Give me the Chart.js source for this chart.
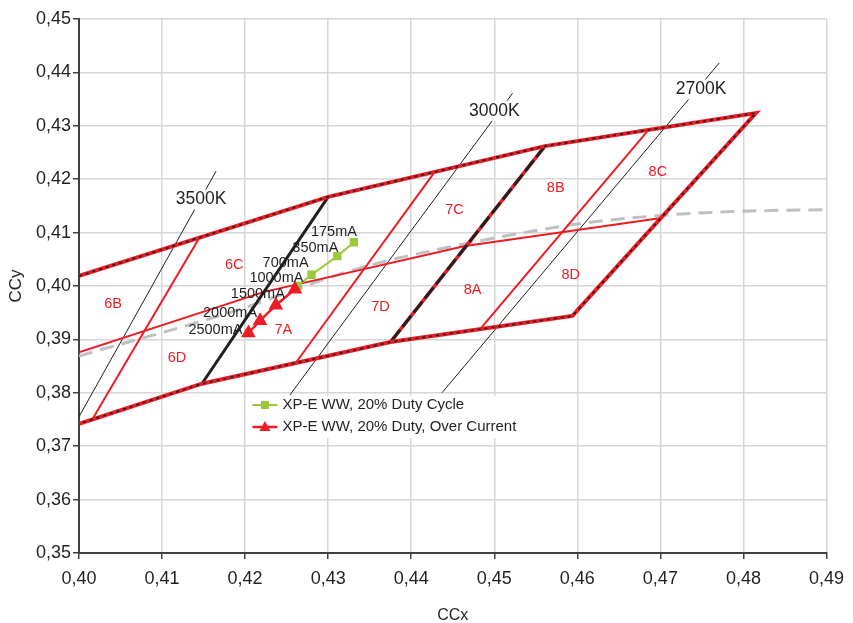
<!DOCTYPE html>
<html>
<head>
<meta charset="utf-8">
<script src="https://cdn.jsdelivr.net/npm/chart.js@4.4.1/dist/chart.umd.min.js"></script>
<style>
  html, body { margin: 0; padding: 0; background: #fff; }
  #wrap { width: 853px; height: 623px; }
</style>
</head>
<body>
<div id="wrap"><canvas id="chart"></canvas></div>
<script>
// Axis ticks
const xTicks = [0.40, 0.41, 0.42, 0.43, 0.44, 0.45, 0.46, 0.47, 0.48, 0.49];
const yTicks = [0.35, 0.36, 0.37, 0.38, 0.39, 0.40, 0.41, 0.42, 0.43, 0.44, 0.45];

// Outline of the 2700K-3500K bins (top edge, right edge, bottom edge)
const outlineX = [0.4000, 0.4300, 0.4561, 0.4815, 0.4594, 0.4375, 0.4148, 0.4000];
const outlineY = [0.4019, 0.4167, 0.4262, 0.4324, 0.3944, 0.3895, 0.3817, 0.3742];

// Borders between the CCT groups
const border67X = [0.4300, 0.4148];
const border67Y = [0.4167, 0.3817];
const border78X = [0.4561, 0.4375];
const border78Y = [0.4262, 0.3895];

// Red sub-bin dividers
const split6X = [0.4144, 0.4017];
const split6Y = [0.4088, 0.3753];
const split7X = [0.4429, 0.4260];
const split7Y = [0.4215, 0.3854];
const split8X = [0.4686, 0.4484];
const split8Y = [0.4293, 0.3921];
const centerX = [0.4000, 0.4223, 0.4465, 0.4699];
const centerY = [0.3876, 0.3989, 0.4075, 0.4127];

// Black body curve
const planckX = [0.4000, 0.4179, 0.4339, 0.4465, 0.4600, 0.4700, 0.4799, 0.4900];
const planckY = [0.3869, 0.3949, 0.4034, 0.4079, 0.4116, 0.4132, 0.4140, 0.4143];

// Isotherms
const iso3500X = [0.4000, 0.4165];
const iso3500Y = [0.3755, 0.4215];
const iso3000X = [0.4254, 0.4522];
const iso3000Y = [0.3796, 0.4361];
const iso2700X = [0.4437, 0.4771];
const iso2700Y = [0.3800, 0.4418];
const isoNames = ['3500K', '3000K', '2700K'];
const isoLabelX = [0.4147, 0.4500, 0.4749];
const isoLabelY = [0.4162, 0.4328, 0.4368];

// Bin names
const binNames = ['6B', '6C', '6D', '7A', '7C', '7D', '8A', '8B', '8C', '8D'];
const binX = [0.4041, 0.4187, 0.4118, 0.4246, 0.4452, 0.4363, 0.4474, 0.4574, 0.4697, 0.4592];
const binY = [0.3967, 0.4039, 0.3866, 0.3918, 0.4142, 0.3961, 0.3993, 0.4184, 0.4214, 0.4021];

// Measured series
const dutyCurrents = ['175mA', '350mA', '700mA', '1000mA'];
const dutyX = [0.4331, 0.4311, 0.4280, 0.4263];
const dutyY = [0.4082, 0.4056, 0.4021, 0.4000];
const overCurrents = ['', '1500mA', '2000mA', '2500mA'];
const overX = [0.4260, 0.4237, 0.4218, 0.4204];
const overY = [0.3994, 0.3964, 0.3935, 0.3912];

// label nudges in px (right edge, middle)
const dutyNudge = [[3, -10], [1, -8], [-3, -12], [6, -8]];
const overNudge = [[0, 0], [9, -11], [-3, -8], [-6, -3]];

const RED = '#ed1c24';
const BLACK = '#231f20';
const GREEN = '#9cc93a';
const FONT = '"Liberation Sans", Arial, sans-serif';

const pts = (xs, ys) => xs.map((x, i) => ({ x: x, y: ys[i] }));

function line(xs, ys, color, width, order, dash) {
    return {
        data: pts(xs, ys),
        showLine: true,
        borderColor: color,
        borderWidth: width,
        borderDash: dash || [],
        borderJoinStyle: 'miter',
        pointRadius: 0,
        fill: false,
        order: order
    };
}

const datasets = [
    {
        label: 'XP-E WW, 20% Duty Cycle',
        data: pts(dutyX, dutyY),
        showLine: true,
        borderColor: GREEN,
        backgroundColor: GREEN,
        borderWidth: 2,
        pointStyle: 'rect',
        pointRadius: 4.5,
        order: 0
    },
    {
        label: 'XP-E WW, 20% Duty, Over Current',
        data: pts(overX, overY),
        showLine: true,
        borderColor: RED,
        backgroundColor: RED,
        borderWidth: 2.5,
        pointStyle: 'triangle',
        pointRadius: 6,
        order: -1
    },
    line(outlineX, outlineY, BLACK, 1.8, 2, [3, 4]),
    line(outlineX, outlineY, RED, 4, 3),
    line(border78X, border78Y, BLACK, 3, 4, [14, 4]),
    line(border78X, border78Y, RED, 3.5, 5),
    line(border67X, border67Y, BLACK, 3, 4),
    line(split6X, split6Y, RED, 2, 6),
    line(split7X, split7Y, RED, 2, 6),
    line(split8X, split8Y, RED, 2, 6),
    line(centerX, centerY, RED, 2, 6),
    line(iso3500X, iso3500Y, BLACK, 1, 7),
    line(iso3000X, iso3000Y, BLACK, 1, 7),
    line(iso2700X, iso2700Y, BLACK, 1, 7),
    Object.assign(line(planckX, planckY, '#c0c0c0', 3, 8, [14, 8]), { cubicInterpolationMode: 'monotone' })
];

// Text on the plot and the legend box
const labelsPlugin = {
    id: 'labels',
    afterDatasetsDraw(chart) {
        const ctx = chart.ctx;
        const xs = chart.scales.x, ys = chart.scales.y;
        ctx.save();

        // isotherm names on white
        ctx.font = '17.5px ' + FONT;
        ctx.textAlign = 'center';
        ctx.textBaseline = 'middle';
        isoNames.forEach((name, i) => {
            const px = xs.getPixelForValue(isoLabelX[i]);
            const py = ys.getPixelForValue(isoLabelY[i]);
            const w = ctx.measureText(name).width;
            ctx.fillStyle = '#fff';
            ctx.fillRect(px - w / 2 - 2, py - 10, w + 4, 20);
            ctx.fillStyle = BLACK;
            ctx.fillText(name, px, py);
        });

        // bin names
        ctx.font = '14.5px ' + FONT;
        ctx.fillStyle = RED;
        binNames.forEach((name, i) => {
            ctx.fillText(name, xs.getPixelForValue(binX[i]), ys.getPixelForValue(binY[i]));
        });

        // current labels
        ctx.fillStyle = BLACK;
        ctx.textAlign = 'right';
        dutyCurrents.forEach((t, i) => {
            ctx.fillText(t, xs.getPixelForValue(dutyX[i]) + dutyNudge[i][0], ys.getPixelForValue(dutyY[i]) + dutyNudge[i][1]);
        });
        overCurrents.forEach((t, i) => {
            if (!t) return;
            ctx.fillText(t, xs.getPixelForValue(overX[i]) + overNudge[i][0], ys.getPixelForValue(overY[i]) + overNudge[i][1]);
        });

        // legend
        const lx = xs.getPixelForValue(0.4204);
        const ly = ys.getPixelForValue(0.3794);
        ctx.fillStyle = '#fff';
        ctx.fillRect(lx, ly, 276, 42);
        ctx.font = '15px ' + FONT;
        ctx.textAlign = 'left';
        [0, 1].forEach(i => {
            const ds = chart.data.datasets[i];
            const cy = ly + 9 + i * 22;
            ctx.strokeStyle = ds.borderColor;
            ctx.lineWidth = ds.borderWidth;
            ctx.beginPath();
            ctx.moveTo(lx + 4, cy);
            ctx.lineTo(lx + 29, cy);
            ctx.stroke();
            ctx.fillStyle = ds.backgroundColor;
            if (ds.pointStyle === 'rect') {
                ctx.fillRect(lx + 12.5, cy - 4, 8, 8);
            } else {
                ctx.beginPath();
                ctx.moveTo(lx + 16.5, cy - 6);
                ctx.lineTo(lx + 22, cy + 4);
                ctx.lineTo(lx + 11, cy + 4);
                ctx.closePath();
                ctx.fill();
            }
            ctx.fillStyle = BLACK;
            ctx.textBaseline = 'middle';
            ctx.fillText(ds.label, lx + 34, cy);
        });
        ctx.restore();
    }
};

const fmt = v => Number(v).toFixed(2).replace('.', ',');

new Chart(document.getElementById('chart'), {
    type: 'scatter',
    data: { datasets: datasets },
    plugins: [labelsPlugin],
    options: {
        responsive: true,
        maintainAspectRatio: false,
        animation: false,
        devicePixelRatio: 1,
        layout: { padding: { top: 19, right: 26, left: 0, bottom: 0 } },
        plugins: { legend: { display: false }, tooltip: { enabled: false } },
        scales: {
            x: {
                type: 'linear',
                min: 0.40,
                max: 0.49,
                afterBuildTicks: s => { s.ticks = xTicks.map(v => ({ value: v })); },
                afterFit: s => { s.height = 70; },
                ticks: { callback: fmt, color: BLACK, font: { family: FONT, size: 18 }, padding: 9, maxRotation: 0 },
                grid: { color: '#d6d6d6', lineWidth: 1.5, tickColor: '#404040', tickLength: 6, tickWidth: 1.5 },
                border: { color: '#404040', width: 2 },
                title: { display: true, text: 'CCx', color: BLACK, font: { family: FONT, size: 16 }, padding: { top: 0, bottom: -2 } }
            },
            y: {
                type: 'linear',
                min: 0.35,
                max: 0.45,
                afterBuildTicks: s => { s.ticks = yTicks.map(v => ({ value: v })); },
                afterFit: s => { s.width = 79; },
                ticks: { callback: fmt, color: BLACK, font: { family: FONT, size: 18 }, padding: 2 },
                grid: { color: '#d6d6d6', lineWidth: 1.5, tickColor: '#404040', tickLength: 6, tickWidth: 1.5 },
                border: { color: '#404040', width: 2 },
                title: { display: true, text: 'CCy', color: BLACK, font: { family: FONT, size: 17 }, padding: { top: 6, bottom: 0 } }
            }
        }
    }
});
</script>
</body>
</html>
